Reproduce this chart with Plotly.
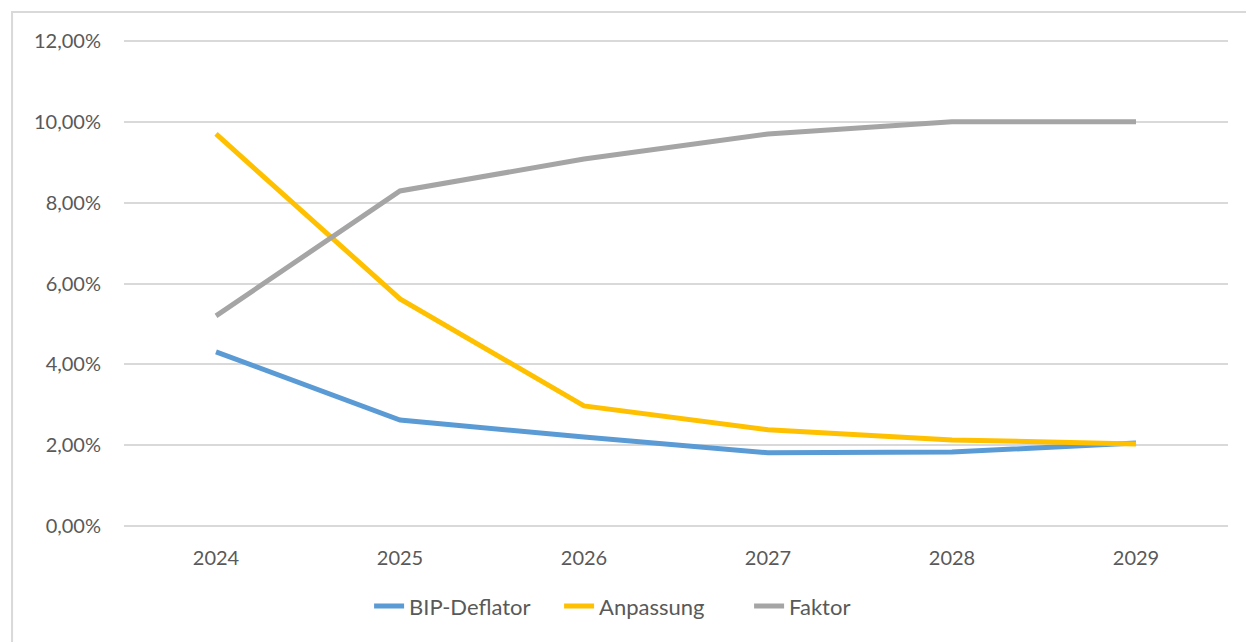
import plotly.graph_objects as go

# Years and series (values in percent)
years = ["2024", "2025", "2026", "2027", "2028", "2029"]
bip_deflator = [4.31, 2.62, 2.20, 1.81, 1.83, 2.05]
anpassung = [9.70, 5.62, 2.97, 2.38, 2.13, 2.03]
faktor = [5.20, 8.29, 9.08, 9.70, 10.00, 10.00]

y_ticks = [0, 2, 4, 6, 8, 10, 12]
y_tick_labels = ["0,00%", "2,00%", "4,00%", "6,00%", "8,00%", "10,00%", "12,00%"]

series = [
    ("BIP-Deflator", bip_deflator, "#5B9BD5"),
    ("Anpassung", anpassung, "#FFC000"),
    ("Faktor", faktor, "#A5A5A5"),
]

fig = go.Figure()
for name, values, color in series:
    fig.add_trace(go.Scatter(
        x=years, y=values, name=name, mode="lines",
        line=dict(color=color, width=5),
    ))

font_family = "Lato, Noto Sans, sans-serif"
text_color = "#595959"

# small padding on the value axis so the 0 % and 12 % grid lines are drawn
y_pad = 0.1

fig.update_layout(
    width=1246, height=642,
    margin=dict(l=124, r=18, t=37, b=112),
    paper_bgcolor="white", plot_bgcolor="white",
    font=dict(family=font_family, size=20, color=text_color),
    showlegend=True,
    legend=dict(
        orientation="h", x=0.222, xanchor="left", y=-0.112, yanchor="top",
        font=dict(size=22, color=text_color), itemwidth=30,
        entrywidth=145, entrywidthmode="pixels",
        traceorder="normal",
    ),
    xaxis=dict(
        type="category", range=[-0.5, 5.5],
        showgrid=False, showline=False, zeroline=False,
        ticks="", ticklabelstandoff=14,
        tickfont=dict(size=20, color=text_color),
    ),
    yaxis=dict(
        range=[-y_pad, 12 + y_pad], tickvals=y_ticks, ticktext=y_tick_labels,
        showgrid=True, gridcolor="#D9D9D9", gridwidth=1.5,
        zeroline=False, showline=False, ticks="",
        ticklabelstandoff=22,
        tickfont=dict(size=20, color=text_color),
    ),
    shapes=[dict(
        type="rect", xref="paper", yref="paper",
        x0=-0.1014, x1=1.05, y0=-0.4, y1=1.0508,
        line=dict(color="#D9D9D9", width=2), fillcolor="rgba(0,0,0,0)",
        layer="below",
    )],
)

fig.write_html("out.html")
